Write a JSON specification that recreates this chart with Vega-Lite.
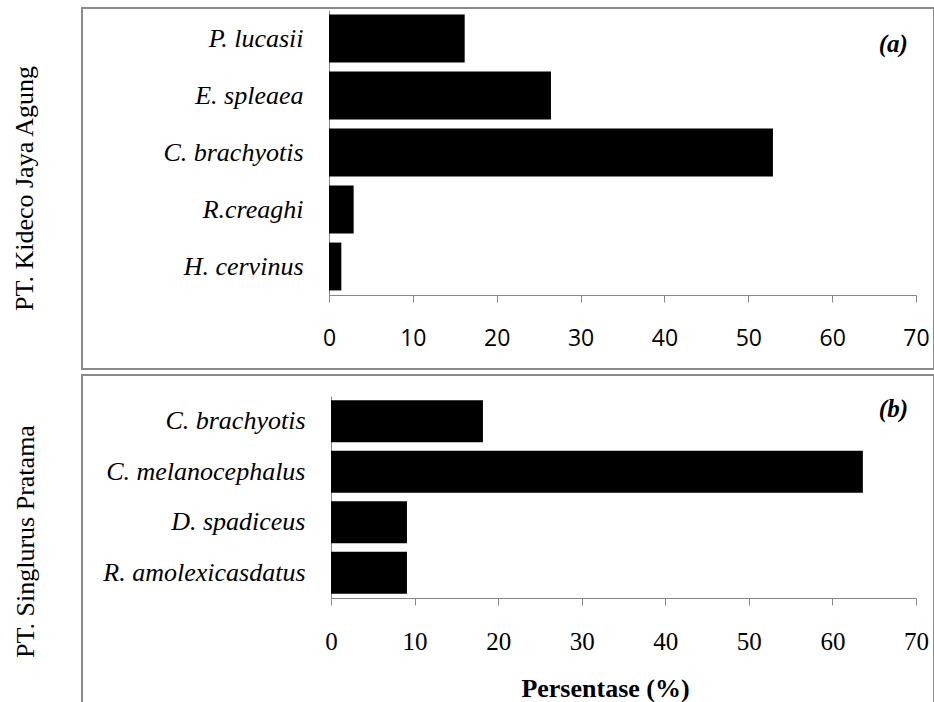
{
  "$schema": "https://vega.github.io/schema/vega-lite/v6.json",
  "autosize": {"type": "none"},
  "padding": {"left": 82, "top": 8, "right": 0, "bottom": 0},
  "params": [
    {"name": "width", "value": 852},
    {"name": "height", "value": 694}
  ],
  "background": "white",
  "spacing": 6,
  "bounds": "flush",
  "config": {
    "view": {"stroke": "#8a8a8a", "strokeWidth": 2},
    "axis": {"grid": false, "domainColor": "#868686", "tickColor": "#868686", "labelColor": "black", "titleColor": "black", "labelFlush": false, "labelOverlap": false}
  },
  "vconcat": [
    {
      "width": 856,
      "height": 361,
      "layer": [
        {
          "data": {"values": [
            {"species": "P. lucasii", "pct": 16.18},
            {"species": "E. spleaea", "pct": 26.47},
            {"species": "C. brachyotis", "pct": 52.94},
            {"species": "R.creaghi", "pct": 2.94},
            {"species": "H. cervinus", "pct": 1.47}
          ]},
          "mark": {"type": "bar", "color": "black"},
          "encoding": {
            "y": {
              "field": "species", "type": "nominal", "sort": null,
              "scale": {"range": [2, 287], "paddingInner": 0.16, "paddingOuter": 0.08},
              "axis": {
                "title": "PT. Kideco Jaya Agung", "offset": -247, "ticks": false,
                "labelPadding": 26, "labelFont": "Liberation Serif", "labelFontStyle": "italic",
                "labelFontSize": 26, "labelLimit": 400,
                "titleFont": "Liberation Serif", "titleFontWeight": "normal", "titleFontSize": 26,
                "titleX": -305, "titleY": 180, "titleAngle": -90, "titleAlign": "center", "titleBaseline": "middle"
              }
            },
            "x": {
              "field": "pct", "type": "quantitative",
              "scale": {"domain": [0, 70], "range": [247, 834], "nice": false},
              "axis": {
                "title": null, "offset": -74, "values": [0, 10, 20, 30, 40, 50, 60, 70],
                "tickSize": 7, "labelFont": "Open Sans", "labelFontSize": 23, "labelPadding": 25
              }
            }
          }
        },
        {
          "data": {"values": [{"tag": "(a)"}]},
          "mark": {"type": "text", "font": "Liberation Serif", "fontStyle": "italic", "fontWeight": "bold", "fontSize": 25, "dy": 5},
          "encoding": {
            "x": {"datum": 67.3, "type": "quantitative"},
            "y": {"datum": "P. lucasii", "type": "nominal"},
            "text": {"field": "tag"}
          }
        }
      ]
    },
    {
      "width": 856,
      "height": 340,
      "layer": [
        {
          "data": {"values": [
            {"species": "C. brachyotis", "pct": 18.18},
            {"species": "C. melanocephalus", "pct": 63.64},
            {"species": "D. spadiceus", "pct": 9.09},
            {"species": "R. amolexicasdatus", "pct": 9.09}
          ]},
          "mark": {"type": "bar", "color": "black"},
          "encoding": {
            "y": {
              "field": "species", "type": "nominal", "sort": null,
              "scale": {"range": [21, 223], "paddingInner": 0.17, "paddingOuter": 0.085},
              "axis": {
                "title": "PT. Singlurus Pratama", "offset": -249, "ticks": false,
                "labelPadding": 26, "labelFont": "Liberation Serif", "labelFontStyle": "italic",
                "labelFontSize": 26, "labelLimit": 400,
                "titleFont": "Liberation Serif", "titleFontWeight": "normal", "titleFontSize": 26,
                "titleX": -306, "titleY": 166, "titleAngle": -90, "titleAlign": "center", "titleBaseline": "middle"
              }
            },
            "x": {
              "field": "pct", "type": "quantitative",
              "scale": {"domain": [0, 70], "range": [249, 834], "nice": false},
              "axis": {
                "title": "Persentase (%)", "offset": -117, "values": [0, 10, 20, 30, 40, 50, 60, 70],
                "tickSize": 7, "labelFont": "Liberation Serif", "labelFontSize": 25, "labelPadding": 24,
                "titleFont": "Liberation Serif", "titleFontWeight": "bold", "titleFontSize": 26,
                "titleX": 523, "titleY": 90, "titleAlign": "center", "titleBaseline": "middle"
              }
            }
          }
        },
        {
          "data": {"values": [{"tag": "(b)"}]},
          "mark": {"type": "text", "font": "Liberation Serif", "fontStyle": "italic", "fontWeight": "bold", "fontSize": 25, "dy": -12},
          "encoding": {
            "x": {"datum": 67.3, "type": "quantitative"},
            "y": {"datum": "C. brachyotis", "type": "nominal"},
            "text": {"field": "tag"}
          }
        }
      ]
    }
  ]
}
